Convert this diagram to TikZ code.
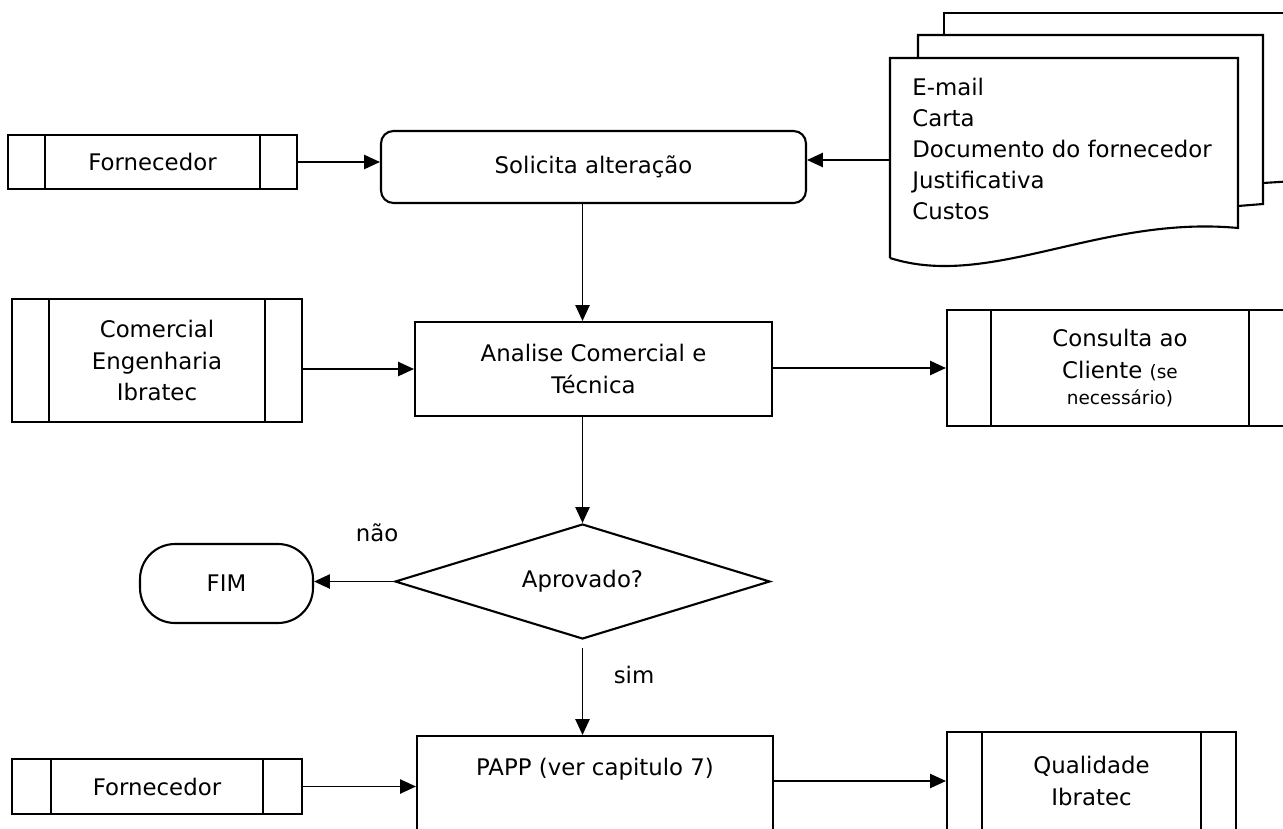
\documentclass[tikz,border=0pt]{standalone}
\usepackage{fontspec}
\setmainfont{DejaVu Sans}
\usetikzlibrary{shapes.geometric,arrows.meta,positioning,calc}
\tikzset{
    % Flowchart styles
    every node/.style={font=\fontsize{13}{18}\selectfont},
    procbox/.style={
        rectangle, draw, line width=1.2pt, align=center, inner sep=2pt
    },
    roundbox/.style={
        procbox, rounded corners=7pt
    },
    subproc/.style={
        procbox,
        path picture={
            \draw[line width=1.2pt]
                ([xshift=#1]path picture bounding box.north west) --
                ([xshift=#1]path picture bounding box.south west)
                ([xshift=-#1]path picture bounding box.north east) --
                ([xshift=-#1]path picture bounding box.south east);
        }
    },
    subproc/.default=0.74cm,
    decision/.style={
        diamond, draw, line width=1.2pt, aspect=3.3, inner sep=0pt
    },
    terminal/.style={
        procbox, rounded corners=0.7cm
    },
    flow/.style={
        -{Triangle[length=9pt,width=8pt]}, line width=1.1pt
    },
    docline/.style={line width=1.2pt},
    tag/.style={inner sep=0pt}
}

\begin{document}
\begin{tikzpicture}[x=0.02cm,y=-0.02cm]

\useasboundingbox (0,0) rectangle (1283,828);
\clip (0,0) rectangle (1283,828);

% First row
\node[subproc=0.74cm, minimum width=5.78cm, minimum height=1.08cm] (forn1) at (152.5,162) {Fornecedor};
\node[roundbox, minimum width=8.5cm, minimum height=1.44cm] (sol) at (593.5,167) {Solicita alteração};

% Document stack
\node[inner sep=0pt, minimum width=6.96cm, minimum height=4.08cm] (docs) at (1064,160) {};
\draw[docline] (944,35) -- (944,13) -- (1295,13);
\draw[docline] (1263,183) -- (1295,181);
\draw[docline] (918,58) -- (918,35) -- (1263,35) -- (1263,204) -- (1238,206);
\draw[docline] (890,258) -- (890,58) -- (1238,58) -- (1238,228)
    .. controls (1100,215) and (990,290) .. (890,258);
\node[tag, anchor=north west, align=left, font=\fontsize{13}{17.6}\selectfont] (docitems) at (912,78)
    {E-mail\\Carta\\Documento do fornecedor\\Justificativa\\Custos};

% Second row
\node[subproc=0.74cm, minimum width=5.8cm, minimum height=2.46cm] (com) at (157,360.5) {Comercial\\Engenharia\\Ibratec};
\node[procbox, minimum width=7.14cm, minimum height=1.88cm] (ana) at (593.5,369) {Analise Comercial e\\Técnica};
\node[subproc=0.88cm, minimum width=6.92cm, minimum height=2.32cm] (cons) at (1120,368)
    {Consulta ao\\Cliente {\fontsize{10.5}{12}\selectfont (se}\\[-3pt]{\fontsize{10.5}{12}\selectfont necessário)}};

% Decision
\node[decision, minimum width=7.5cm, minimum height=2.3cm] (dia) at (582.5,581.5) {Aprovado?};
\node[terminal, minimum width=3.46cm, minimum height=1.58cm] (fim) at (226.5,583.5) {FIM};
\node[tag] (nao) at (377,533) {não};
\node[tag] (sim) at (634,675) {sim};

% Last row
\node[subproc=0.78cm, minimum width=5.8cm, minimum height=1.1cm] (forn2) at (157,786.5) {Fornecedor};
\node[procbox, anchor=north, minimum width=7.12cm, inner ysep=0.44cm, text depth=2cm] (papp) at (595,735) {PAPP (ver capitulo 7)};
\node[subproc=0.7cm, minimum width=5.78cm, minimum height=1.96cm] (qual) at (1091.5,781) {Qualidade\\Ibratec};

% Connectors
\draw[flow] (forn1.east) -- (forn1.east -| sol.west);
\draw[flow] (docs.west) -- (docs.west -| sol.east);
\draw[flow] (dia.north |- sol.south) -- (dia.north |- ana.north);
\draw[flow] (com.east |- ana.west) -- (ana.west);
\draw[flow] (ana.east |- cons.west) -- (cons.west);
\draw[flow] (dia.north |- ana.south) -- (dia.north);
\draw[flow] (dia.west) -- (dia.west -| fim.east);
\draw[flow] ([yshift=-0.16cm]dia.south) -- (dia.south |- papp.north);
\draw[flow] (forn2.east) -- (forn2.east -| papp.west);
\draw[flow] (papp.east |- qual.west) -- (qual.west);

\end{tikzpicture}
\end{document}
